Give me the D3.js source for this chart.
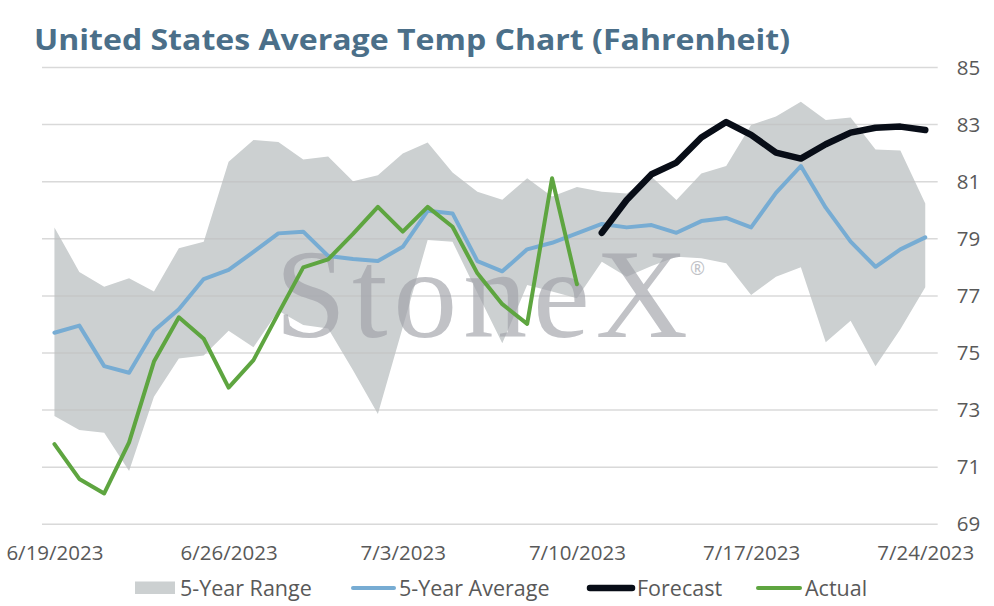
<!DOCTYPE html>
<html>
<head>
<meta charset="utf-8">
<script src="https://cdn.jsdelivr.net/npm/d3@7"></script>
<style>
  body { margin: 0; background: #fff; }
  svg { display: block; }
</style>
</head>
<body>
<script>
// categories: one point per day
const dates = [
  "6/19/2023", "6/20/2023", "6/21/2023", "6/22/2023", "6/23/2023", "6/24/2023",
  "6/25/2023", "6/26/2023", "6/27/2023", "6/28/2023", "6/29/2023", "6/30/2023",
  "7/1/2023", "7/2/2023", "7/3/2023", "7/4/2023", "7/5/2023", "7/6/2023",
  "7/7/2023", "7/8/2023", "7/9/2023", "7/10/2023", "7/11/2023", "7/12/2023",
  "7/13/2023", "7/14/2023", "7/15/2023", "7/16/2023", "7/17/2023", "7/18/2023",
  "7/19/2023", "7/20/2023", "7/21/2023", "7/22/2023", "7/23/2023", "7/24/2023"
];
const xTickLabels = ["6/19/2023", "6/26/2023", "7/3/2023", "7/10/2023", "7/17/2023", "7/24/2023"];
const yTicks = [69, 71, 73, 75, 77, 79, 81, 83, 85];

const rangeHigh = [79.40, 77.84, 77.32, 77.62, 77.15, 78.67, 78.90, 81.70, 82.46, 82.39, 81.78, 81.88,
  81.02, 81.23, 81.99, 82.37, 81.32, 80.65, 80.37, 81.12, 80.48, 80.81, 80.65, 80.59,
  81.17, 80.36, 81.29, 81.55, 82.99, 83.28, 83.80, 83.16, 83.25, 82.13, 82.09, 80.24];
const rangeLow = [72.79, 72.30, 72.21, 70.87, 73.47, 74.81, 74.91, 75.78, 75.20, 76.48, 75.98, 75.86,
  74.40, 72.86, 75.90, 78.96, 78.90, 77.10, 75.34, 77.38, 77.15, 76.92, 78.20, 77.67,
  78.05, 78.37, 78.32, 78.14, 77.03, 77.67, 78.00, 75.38, 76.13, 74.54, 75.83, 77.30];
const avg5 = [75.71, 75.96, 74.54, 74.31, 75.78, 76.53, 77.59, 77.91, 78.54, 79.19, 79.25, 78.40,
  78.29, 78.22, 78.72, 79.98, 79.89, 78.22, 77.86, 78.63, 78.86, 79.19, 79.52, 79.40,
  79.48, 79.21, 79.62, 79.73, 79.40, 80.61, 81.55, 80.09, 78.90, 78.02, 78.63, 79.05];
const actual = [71.81, 70.59, 70.08, 71.87, 74.70, 76.25, 75.50, 73.79, 74.75, 76.39, 78.00, 78.28,
  79.17, 80.12, 79.25, 80.12, 79.42, 77.79, 76.71, 76.02, 81.12, 77.41, null, null,
  null, null, null, null, null, null, null, null, null, null, null, null];
const forecast = [null, null, null, null, null, null, null, null, null, null, null, null,
  null, null, null, null, null, null, null, null, null, null, 79.21, 80.36,
  81.26, 81.67, 82.55, 83.09, 82.64, 82.02, 81.81, 82.31, 82.72, 82.89, 82.93, 82.81];

const W = 994, H = 606;
const plot = { left: 42, right: 937.7, top: 67.5, bottom: 524.3 };
const FONT = "'Open Sans', 'Noto Sans', sans-serif";

const svg = d3.select("body").append("svg")
  .attr("width", W)
  .attr("height", H)
  .style("font-family", FONT);

const x = d3.scalePoint()
  .domain(dates)
  .range([plot.left, plot.right])
  .padding(0.5);

const y = d3.scaleLinear()
  .domain([69, 85])
  .range([plot.bottom, plot.top]);

// title
svg.append("text")
  .attr("x", 34)
  .attr("y", 50)
  .attr("fill", "#4b6f89")
  .attr("font-size", 29)
  .attr("font-weight", 700)
  .attr("textLength", 756)
  .attr("lengthAdjust", "spacingAndGlyphs")
  .text("United States Average Temp Chart (Fahrenheit)");

// 5-year range band
const band = dates.map((d, i) => ({ d, lo: rangeLow[i], hi: rangeHigh[i] }));
svg.append("path")
  .datum(band)
  .attr("fill", "#ccd0d1")
  .attr("d", d3.area()
    .x(d => x(d.d))
    .y0(d => y(d.lo))
    .y1(d => y(d.hi)));

// gridlines
svg.append("g")
  .selectAll("line")
  .data(yTicks)
  .join("line")
  .attr("x1", plot.left)
  .attr("x2", plot.right)
  .attr("y1", d => y(d))
  .attr("y2", d => y(d))
  .attr("stroke", "#bfbfbf")
  .attr("stroke-opacity", 0.6)
  .attr("stroke-width", 1.5);

// watermark
const wm = svg.append("g").attr("fill", "#a0a2a9").attr("opacity", 0.65);
wm.append("text")
  .attr("x", 275)
  .attr("y", 337)
  .attr("font-family", "'Liberation Serif', 'DejaVu Serif', serif")
  .attr("font-size", 128)
  .attr("textLength", 413)
  .attr("lengthAdjust", "spacing")
  .text("StoneX");
wm.append("text")
  .attr("x", 690)
  .attr("y", 275)
  .attr("font-size", 18)
  .text("®");

// lines
function drawLine(values, color, width) {
  const pts = dates.map((d, i) => ({ d, v: values[i] }));
  svg.append("path")
    .datum(pts)
    .attr("fill", "none")
    .attr("stroke", color)
    .attr("stroke-width", width)
    .attr("stroke-linejoin", "round")
    .attr("stroke-linecap", "round")
    .attr("d", d3.line()
      .defined(p => p.v != null)
      .x(p => x(p.d))
      .y(p => y(p.v)));
}
drawLine(avg5, "#77acd3", 4);
drawLine(forecast, "#080d17", 6.5);
drawLine(actual, "#5ea540", 4);

// axes
const xAxis = svg.append("g")
  .attr("transform", `translate(0,${plot.bottom})`)
  .call(d3.axisBottom(x).tickValues(xTickLabels).tickSize(0).tickPadding(21));
xAxis.select(".domain").remove();
xAxis.selectAll("text")
  .attr("fill", "#595959")
  .attr("font-size", 20.5)
  .style("font-family", FONT);

const yAxis = svg.append("g")
  .attr("transform", `translate(${plot.right},0)`)
  .call(d3.axisRight(y).tickValues(yTicks).tickSize(0).tickPadding(19));
yAxis.select(".domain").remove();
yAxis.selectAll("text")
  .attr("fill", "#595959")
  .attr("font-size", 20.5)
  .style("font-family", FONT);

// legend
const legend = svg.append("g").attr("font-size", 21.5).attr("fill", "#595959");
legend.append("rect")
  .attr("x", 135).attr("y", 581.5).attr("width", 40).attr("height", 12.5)
  .attr("fill", "#ccd0d1");
legend.append("text").attr("x", 180).attr("y", 595.5).text("5-Year Range");

const legendLines = [
  { x1: 353, x2: 394, color: "#77acd3", width: 4, label: "5-Year Average", tx: 399 },
  { x1: 590, x2: 632, color: "#080d17", width: 6.5, label: "Forecast", tx: 637 },
  { x1: 758, x2: 800, color: "#5ea540", width: 4, label: "Actual", tx: 805 }
];
legendLines.forEach(l => {
  legend.append("line")
    .attr("x1", l.x1).attr("x2", l.x2)
    .attr("y1", 588).attr("y2", 588)
    .attr("stroke", l.color)
    .attr("stroke-width", l.width)
    .attr("stroke-linecap", "round");
  legend.append("text").attr("x", l.tx).attr("y", 595.5).text(l.label);
});
</script>
</body>
</html>
